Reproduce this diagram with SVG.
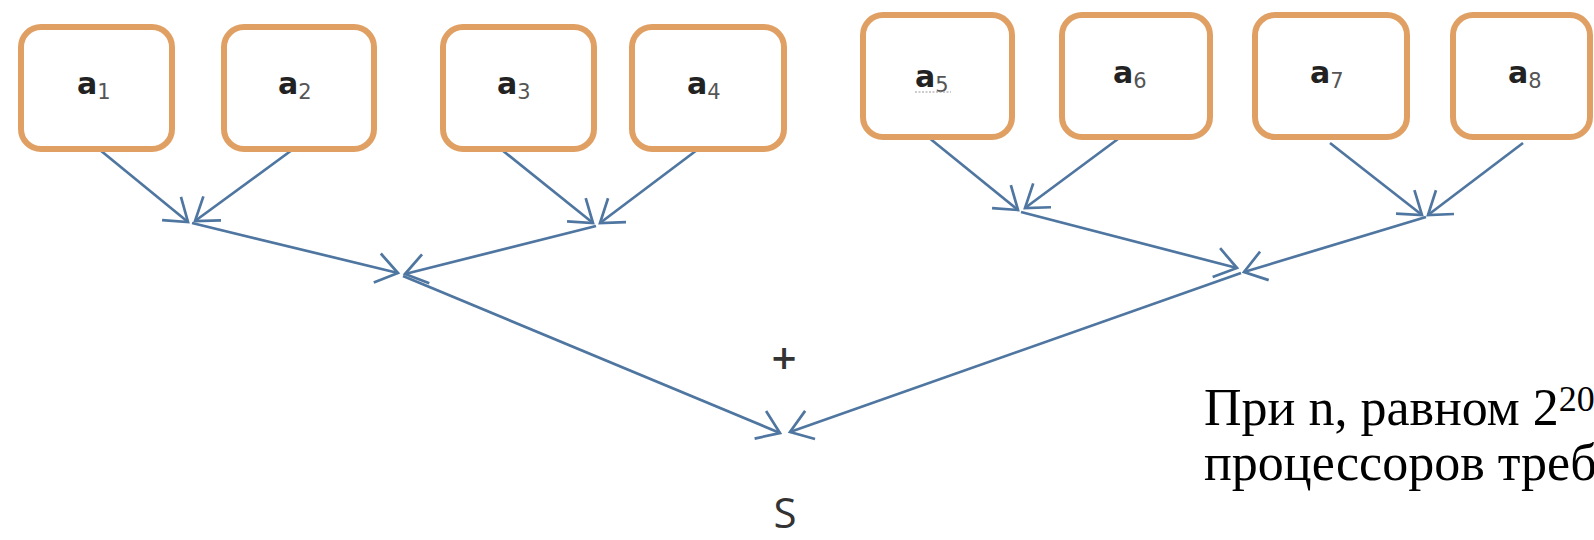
<svg xmlns="http://www.w3.org/2000/svg" width="1594" height="540" viewBox="0 0 1594 540">
<defs>
<style>
.box{fill:#ffffff;stroke:#e0a064;stroke-width:6}
.a{font-family:"DejaVu Sans","Liberation Sans",sans-serif;font-size:30px;font-weight:bold;fill:#222}
.sub{font-family:"DejaVu Sans","Liberation Sans",sans-serif;font-size:21px;font-weight:normal;fill:#555}
.con{stroke:#4f76a0;stroke-width:2.7;fill:none;marker-end:url(#arr)}
.lbl{font-family:"Open Sans","Liberation Sans",sans-serif;fill:#333}
.note{font-family:"Liberation Serif","Times New Roman",serif;font-size:52px;fill:#000}
</style>
<marker id="arr" markerUnits="userSpaceOnUse" markerWidth="40" markerHeight="40" refX="0" refY="0" viewBox="-30 -20 40 40" orient="auto" overflow="visible">
<path d="M-21.3,-14.9 L0,0 L-21.3,14.9" fill="none" stroke="#4f76a0" stroke-width="2.7"/>
</marker>
</defs>
<rect width="1594" height="540" fill="#ffffff"/>
<g id="connectors">
<line class="con" x1="100" y1="150" x2="188" y2="222"/>
<line class="con" x1="292" y1="150" x2="195" y2="221"/>
<line class="con" x1="502" y1="150" x2="593" y2="223"/>
<line class="con" x1="697" y1="150" x2="600" y2="223"/>
<line class="con" x1="928" y1="137" x2="1018" y2="210"/>
<line class="con" x1="1122" y1="136" x2="1025" y2="208"/>
<line class="con" x1="1330" y1="143" x2="1422" y2="215"/>
<line class="con" x1="1523" y1="143" x2="1428" y2="215"/>
<line class="con" x1="192" y1="223" x2="398" y2="273"/>
<line class="con" x1="596" y1="226" x2="405" y2="274"/>
<line class="con" x1="1021" y1="212" x2="1237" y2="268"/>
<line class="con" x1="1426" y1="217" x2="1244" y2="272"/>
<line class="con" x1="403" y1="276" x2="780" y2="433"/>
<line class="con" x1="1241" y1="273" x2="790" y2="432"/>
</g>
<g id="a1"><rect class="box" x="21" y="27" width="151" height="122" rx="20"/><text x="77" y="94"><tspan class="a">a</tspan><tspan class="sub" dy="5">1</tspan></text></g>
<g id="a2"><rect class="box" x="224" y="27" width="150" height="122" rx="20"/><text x="278" y="94"><tspan class="a">a</tspan><tspan class="sub" dy="5">2</tspan></text></g>
<g id="a3"><rect class="box" x="443" y="27" width="151" height="122" rx="20"/><text x="497" y="94"><tspan class="a">a</tspan><tspan class="sub" dy="5">3</tspan></text></g>
<g id="a4"><rect class="box" x="632" y="27" width="152" height="122" rx="20"/><text x="687" y="94"><tspan class="a">a</tspan><tspan class="sub" dy="5">4</tspan></text></g>
<g id="a5"><rect class="box" x="863" y="15" width="149" height="122" rx="20"/><text x="915" y="87"><tspan class="a">a</tspan><tspan class="sub" dy="5">5</tspan></text><line x1="915" y1="92" x2="951" y2="92" stroke="#999" stroke-width="1.2" stroke-dasharray="2 1.5"/></g>
<g id="a6"><rect class="box" x="1062" y="15" width="148" height="122" rx="20"/><text x="1113" y="83"><tspan class="a">a</tspan><tspan class="sub" dy="5">6</tspan></text></g>
<g id="a7"><rect class="box" x="1255" y="15" width="152" height="122" rx="20"/><text x="1310" y="83"><tspan class="a">a</tspan><tspan class="sub" dy="5">7</tspan></text></g>
<g id="a8"><rect class="box" x="1453" y="15" width="137" height="122" rx="20"/><text x="1508" y="83"><tspan class="a">a</tspan><tspan class="sub" dy="5">8</tspan></text></g>
<g id="plus"><text class="lbl" x="784" y="374" font-size="44" font-weight="600" text-anchor="middle">+</text></g>
<g id="S"><text class="lbl" x="785" y="528" font-size="42" text-anchor="middle">S</text></g>
<g id="note">
<text class="note" x="1204" y="425">При n, равном 2<tspan font-size="36" dy="-14">20</tspan></text>
<text class="note" x="1204" y="480">процессоров треб</text>
</g>
</svg>
